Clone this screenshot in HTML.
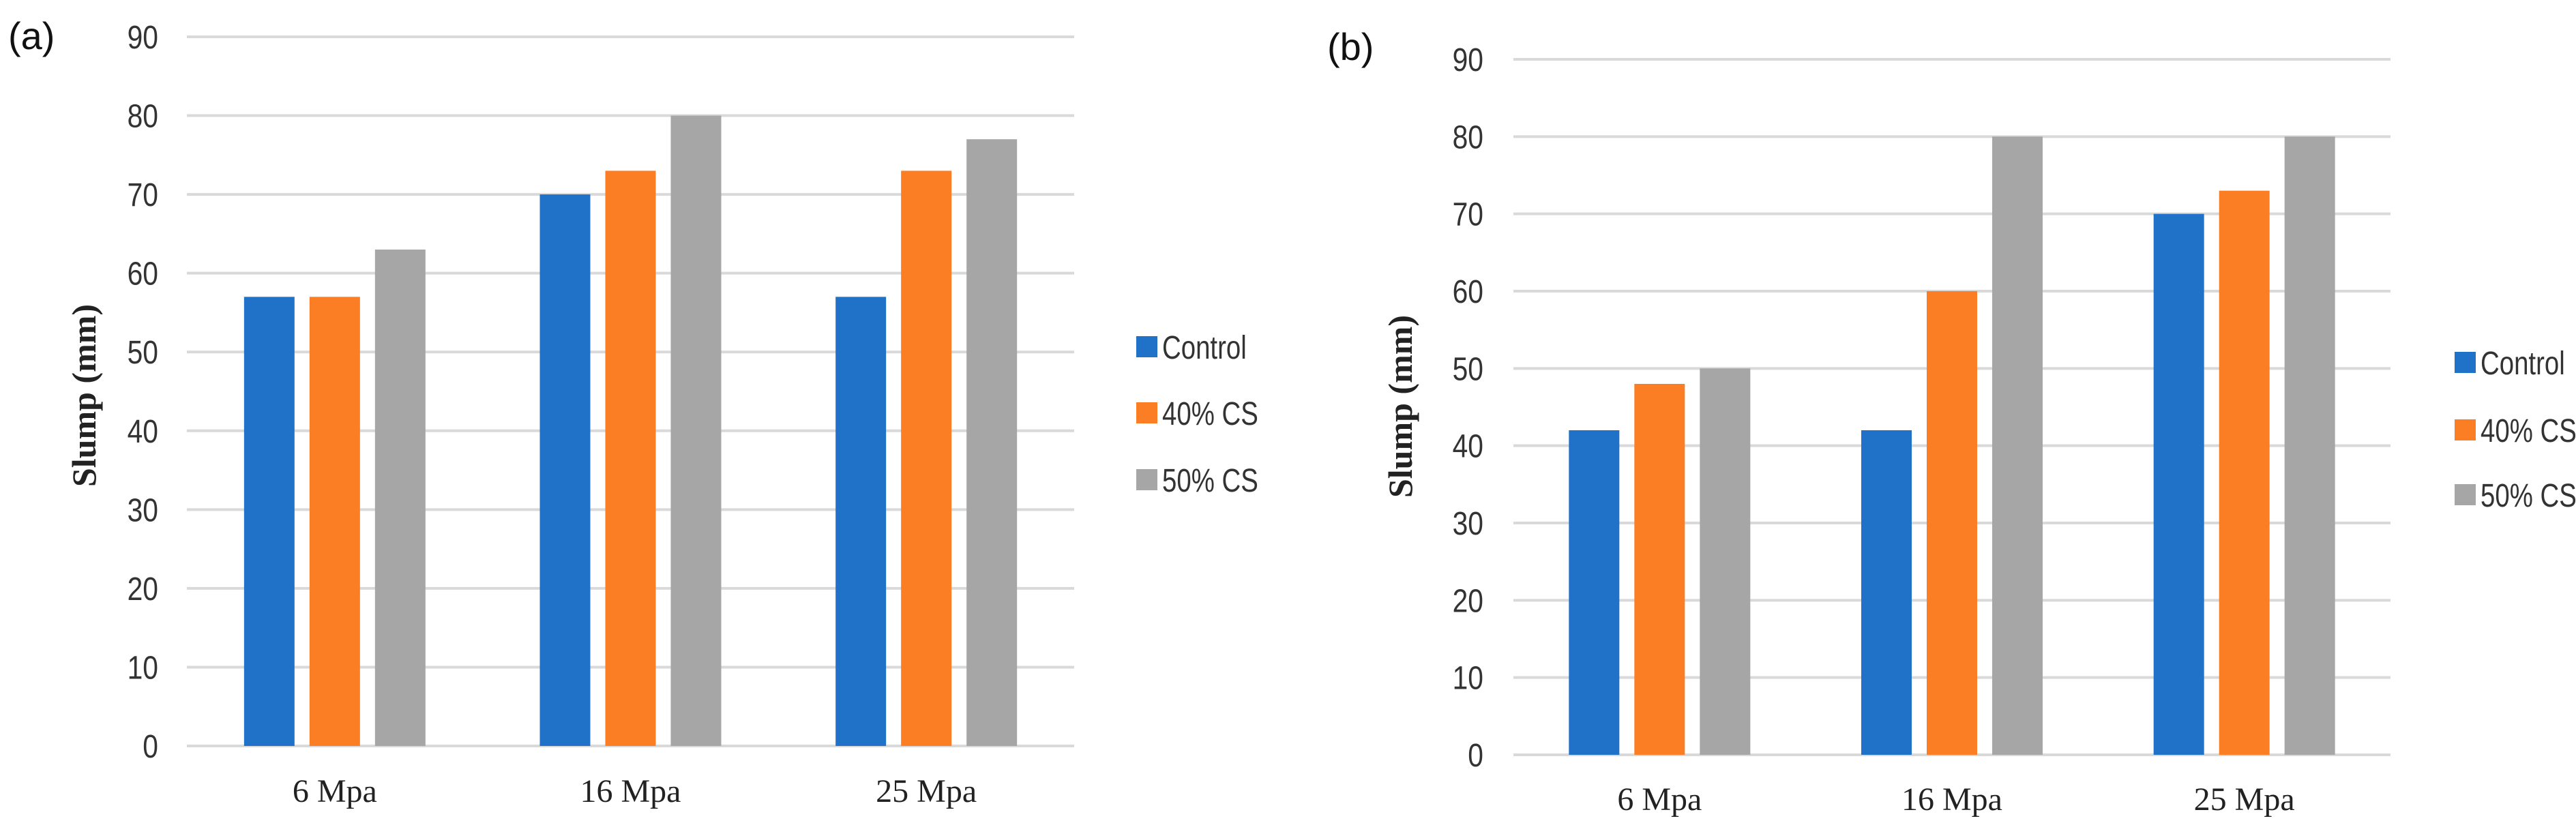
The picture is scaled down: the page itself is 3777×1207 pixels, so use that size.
<!DOCTYPE html>
<html><head><meta charset="utf-8"><style>
html,body{margin:0;padding:0;background:#fff;}
svg{display:block;}
</style></head><body>
<svg id="c" width="3777" height="1207" viewBox="0 0 3777 1207" xmlns="http://www.w3.org/2000/svg"></svg>
<script>
const categories = ["6 Mpa","16 Mpa","25 Mpa"];
const seriesNames = ["Control","40% CS","50% CS"];
const seriesColors = ["#1F72C8","#FB7D24","#A6A6A6"];
const valuesA_control = [57,70,57];
const valuesA_cs40 = [57,73,73];
const valuesA_cs50 = [63,80,77];
const valuesB_control = [42,42,70];
const valuesB_cs40 = [48,60,73];
const valuesB_cs50 = [50,80,80];
const yTicks = [0,10,20,30,40,50,60,70,80,90];

const NS="http://www.w3.org/2000/svg";
const svg=document.getElementById('c');
function mk(tag,attrs,parent){const e=document.createElementNS(NS,tag);for(const k in attrs)e.setAttribute(k,attrs[k]);(parent||svg).appendChild(e);return e;}

function drawChart(cfg){
  const g=mk('g',{});
  
  
  const yScale=v=>cfg.y0+(cfg.y90-cfg.y0)*v/90;
  const step=(cfg.x1-cfg.x0)/categories.length;
  const xCenter=i=>cfg.x0+step*(i+0.5);
  const pl=mk('text',{x:cfg.labelX,y:cfg.labelY,'font-family':'Liberation Sans, sans-serif','font-size':56,fill:'#111'},g);
  pl.textContent=cfg.label;
  
  
  yTicks.forEach(t=>{
    const y=yScale(t);
    const ln=mk('line',{x1:cfg.x0,x2:cfg.x1,y1:y,y2:y,stroke:'#D9D9D9','stroke-width':4},g);
    
    
    const tx=mk('text',{x:0,y:0,transform:'translate('+cfg.tickX+','+(y+17)+') scale(0.85,1)','text-anchor':'end','font-family':'Liberation Sans, sans-serif','font-size':48,fill:'#333'},g);
    tx.textContent=t;
    
    
  });
  const series=cfg.series;
  const bw=74, gap=22;
  categories.forEach((c,i)=>{
    series.forEach((vals,s)=>{
      const x=xCenter(i)+(s-1)*(bw+gap)-bw/2;
      const y=yScale(vals[i]);
      const r=mk('rect',{x:x,y:y,width:bw,height:yScale(0)-y,fill:seriesColors[s]},g);
      
      
    });
    const xl=mk('text',{x:xCenter(i),y:cfg.xLabelY,'text-anchor':'middle','font-family':'Liberation Serif, serif','font-size':48,fill:'#222'},g);
    xl.textContent=c;
    
    
  });
  const yt=mk('text',{x:0,y:0,transform:'translate('+cfg.titleX+','+cfg.titleY+') rotate(-90)','text-anchor':'middle','font-family':'Liberation Serif, serif','font-size':50,'font-weight':'bold',fill:'#222'},g);
  yt.textContent='Slump (mm)';
  
  
  seriesNames.forEach((n,s)=>{
    const ly=cfg.legendY[s];
    const sq=mk('rect',{x:cfg.legendX,y:ly-16,width:31,height:31,fill:seriesColors[s]},g);
    
    
    const lt=mk('text',{x:0,y:0,transform:'translate('+(cfg.legendX+38)+','+(ly+17)+') scale(0.8,1)','font-family':'Liberation Sans, sans-serif','font-size':48,fill:'#333'},g);
    lt.textContent=n;
    
    
  });
}
drawChart({name:'chart-a',label:'(a)',labelX:12,labelY:72,x0:274,x1:1575,y0:1094,y90:54,tickX:232,xLabelY:1176,titleX:140,titleY:580,legendX:1666,legendY:[509,606,704],series:[valuesA_control,valuesA_cs40,valuesA_cs50]});
drawChart({name:'chart-b',label:'(b)',labelX:1946,labelY:88,x0:2219,x1:3505,y0:1107,y90:87,tickX:2175,xLabelY:1188,titleX:2070,titleY:596,legendX:3599,legendY:[532,631,726],series:[valuesB_control,valuesB_cs40,valuesB_cs50]});
</script>
</body></html>
